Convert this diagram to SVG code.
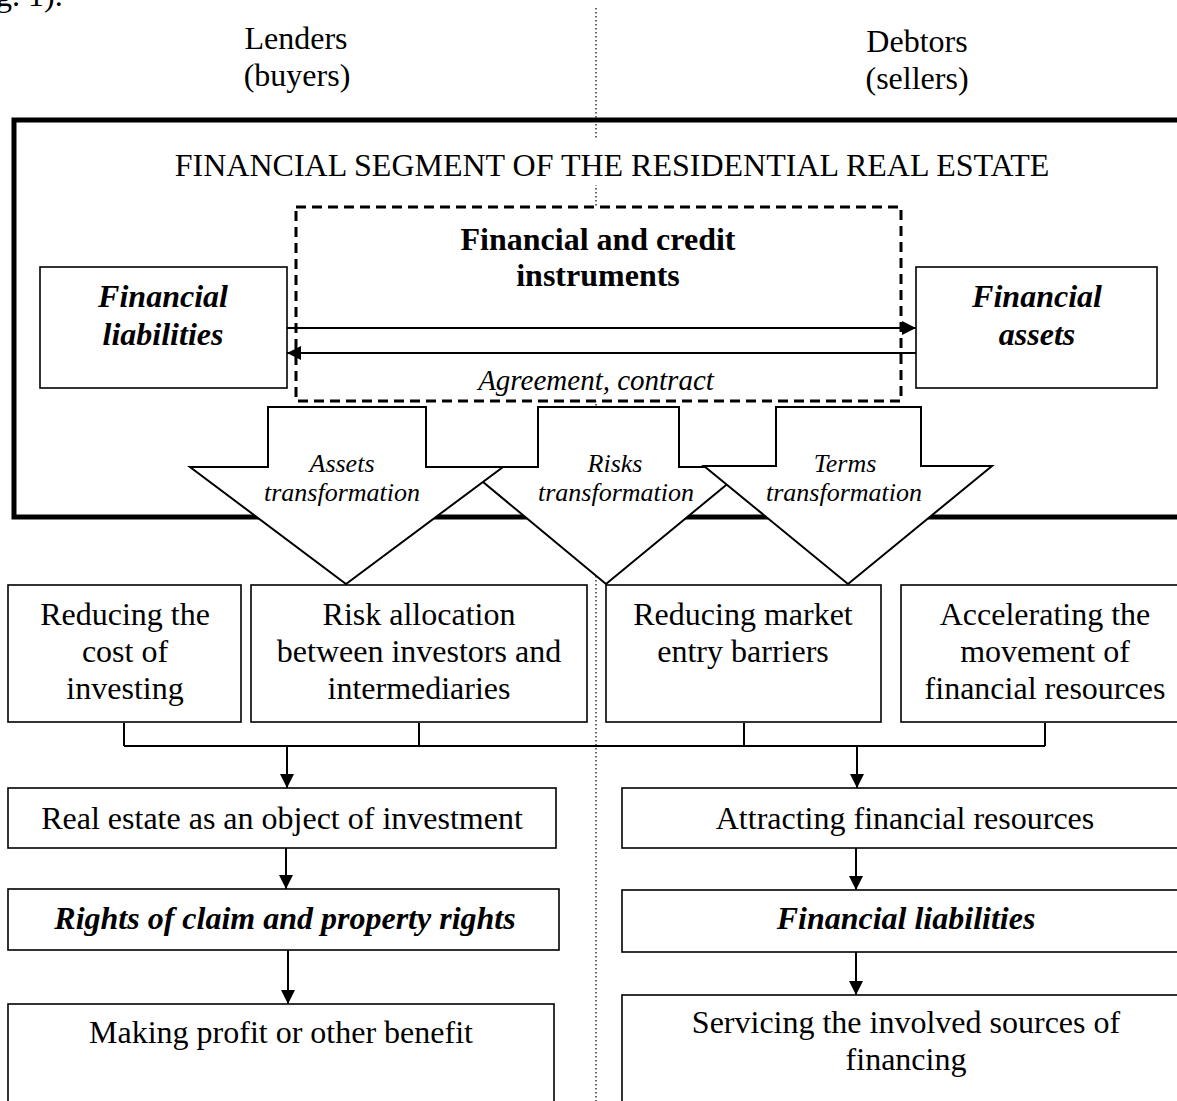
<svg xmlns="http://www.w3.org/2000/svg" width="1177" height="1101" viewBox="0 0 1177 1101">
<style>
text{font-family:"Liberation Serif","Times New Roman",serif;fill:#000}
.t{font-size:32px;text-anchor:middle}
.b{font-weight:bold}
.i{font-style:italic}
.s{font-size:26px;font-style:italic;text-anchor:middle}
.box{fill:#fff;stroke:#000;stroke-width:1.6}
.ln{fill:none;stroke:#000;stroke-width:2}
.blk{fill:#fff;stroke:#000;stroke-width:2}
</style>
<defs>
<marker id="ah" viewBox="0 0 10 10" refX="10" refY="5" markerWidth="16" markerHeight="14" markerUnits="userSpaceOnUse" orient="auto"><path d="M0,0 L10,5 L0,10 Z" fill="#000"/></marker>
</defs>
<rect width="1177" height="1101" fill="#fff"/>
<text x="-4" y="6" font-size="32">g. 1).</text>
<line x1="596" y1="8" x2="596" y2="1101" stroke="#000" stroke-width="1.2" stroke-dasharray="1.5 2.5"/>
<g id="lenders"><text class="t" x="296" y="49">Lenders</text><text class="t" x="297" y="86">(buyers)</text></g>
<g id="debtors"><text class="t" x="917" y="52">Debtors</text><text class="t" x="917" y="89">(sellers)</text></g>
<g id="frame">
<rect x="14" y="120" width="1200" height="397" fill="none" stroke="#000" stroke-width="5"/>
<rect x="160" y="139" width="905" height="46" fill="#fff"/>
<text class="t" x="612" y="176">FINANCIAL SEGMENT OF THE RESIDENTIAL REAL ESTATE</text>
</g>
<g id="instruments">
<rect x="296" y="207" width="605" height="194" fill="#fff" stroke="#000" stroke-width="3" stroke-dasharray="10 6"/>
<text class="t b" x="598" y="250">Financial and credit</text>
<text class="t b" x="598" y="286">instruments</text>
<text class="i" x="596" y="390" font-size="29" text-anchor="middle">Agreement, contract</text>
</g>
<g id="liabilities"><rect class="box" x="40" y="267" width="247" height="121"/><text class="t b i" x="163" y="307">Financial</text><text class="t b i" x="163" y="345">liabilities</text></g>
<g id="assets"><rect class="box" x="916" y="267" width="241" height="121"/><text class="t b i" x="1037" y="307">Financial</text><text class="t b i" x="1037" y="345">assets</text></g>
<g id="connectors">
<line class="ln" x1="287" y1="328" x2="916" y2="328" marker-end="url(#ah)"/>
<line class="ln" x1="916" y1="353" x2="287" y2="353" marker-end="url(#ah)"/>
<path class="ln" d="M124,723 V746 M419,723 V746 M744,723 V746 M1045,723 V746 M124,746 H1045"/>
<line class="ln" x1="287" y1="746" x2="287" y2="788" marker-end="url(#ah)"/>
<line class="ln" x1="857" y1="746" x2="857" y2="788" marker-end="url(#ah)"/>
<line class="ln" x1="286" y1="848" x2="286" y2="889" marker-end="url(#ah)"/>
<line class="ln" x1="288" y1="950" x2="288" y2="1004" marker-end="url(#ah)"/>
<line class="ln" x1="856" y1="848" x2="856" y2="890" marker-end="url(#ah)"/>
<line class="ln" x1="856" y1="952" x2="856" y2="995" marker-end="url(#ah)"/>
</g>
<g id="risks"><path class="blk" d="M538,407 H679 V467 H748 L606,584 L465,467 H538 Z"/><text class="s" x="615" y="472">Risks</text><text class="s" x="616" y="501">transformation</text></g>
<g id="assets-tr"><path class="blk" d="M268,407 H426 V467 H503 L346,584 L190,467 H268 Z"/><text class="s" x="342" y="472">Assets</text><text class="s" x="342" y="501">transformation</text></g>
<g id="terms"><path class="blk" d="M776,407 H921 V466 H992 L848,584 L704,466 H776 Z"/><text class="s" x="845" y="472">Terms</text><text class="s" x="844" y="501">transformation</text></g>
<g id="cost"><rect class="box" x="8" y="585" width="233" height="137"/><text class="t" x="125" y="625">Reducing the</text><text class="t" x="125" y="662">cost of</text><text class="t" x="125" y="699">investing</text></g>
<g id="risk-alloc"><rect class="box" x="251" y="585" width="336" height="137"/><text class="t" x="419" y="625">Risk allocation</text><text class="t" x="419" y="662">between investors and</text><text class="t" x="419" y="699">intermediaries</text></g>
<g id="barriers"><rect class="box" x="606" y="585" width="275" height="137"/><text class="t" x="743" y="625">Reducing market</text><text class="t" x="743" y="662">entry barriers</text></g>
<g id="accel"><rect class="box" x="901" y="585" width="290" height="137"/><text class="t" x="1045" y="625">Accelerating the</text><text class="t" x="1045" y="662">movement of</text><text class="t" x="1045" y="699">financial resources</text></g>
<g id="real-estate"><rect class="box" x="8" y="788" width="548" height="60"/><text class="t" x="282" y="829">Real estate as an object of investment</text></g>
<g id="rights"><rect class="box" x="8" y="889" width="551" height="61"/><text class="t b i" x="285" y="929">Rights of claim and property rights</text></g>
<g id="profit"><rect class="box" x="8" y="1004" width="546" height="110"/><text class="t" x="281" y="1043">Making profit or other benefit</text></g>
<g id="attracting"><rect class="box" x="622" y="788" width="570" height="60"/><text class="t" x="905" y="829">Attracting financial resources</text></g>
<g id="fin-liab"><rect class="box" x="622" y="890" width="570" height="62"/><text class="t b i" x="906" y="929">Financial liabilities</text></g>
<g id="servicing"><rect class="box" x="622" y="995" width="570" height="120"/><text class="t" x="906" y="1033">Servicing the involved sources of</text><text class="t" x="906" y="1070">financing</text></g>
</svg>
